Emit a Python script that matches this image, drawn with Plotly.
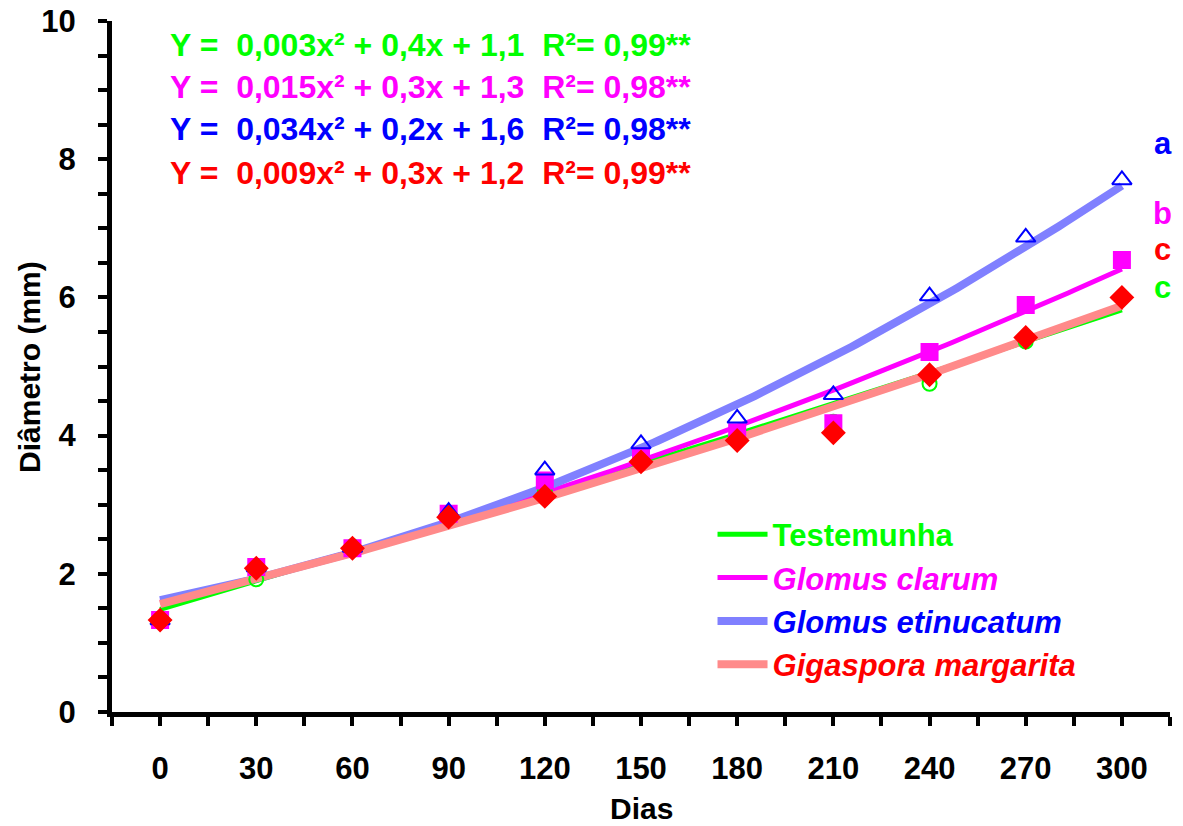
import numpy as np
import plotly.graph_objects as go

dias = [0, 30, 60, 90, 120, 150, 180, 210, 240, 270, 300]
testemunha = [1.33, 1.92, 2.40, 2.85, 3.20, 3.70, 4.00, 4.20, 4.75, 5.36, 6.00]
clarum = [1.33, 2.10, 2.37, 2.87, 3.35, 3.70, 4.05, 4.18, 5.21, 5.89, 6.54]
etunicatum = [1.33, 2.10, 2.38, 2.90, 3.50, 3.88, 4.25, 4.59, 6.02, 6.87, 7.70]
margarita = [1.33, 2.08, 2.37, 2.82, 3.12, 3.62, 3.93, 4.04, 4.88, 5.42, 6.00]

names = ["Testemunha", "<i>Glomus clarum</i>", "<i>Glomus etinucatum</i>", "<i>Gigaspora margarita</i>"]
equations = [
    "Y =  0,003x² + 0,4x + 1,1  R²= 0,99**",
    "Y =  0,015x² + 0,3x + 1,3  R²= 0,98**",
    "Y =  0,034x² + 0,2x + 1,6  R²= 0,98**",
    "Y =  0,009x² + 0,3x + 1,2  R²= 0,99**",
]
letters = ["c", "b", "a", "c"]
letter_y = [6.15, 7.22, 8.23, 6.69]

series = [testemunha, clarum, etunicatum, margarita]
colors = ["#00ff00", "#ff00ff", "#0000ff", "#ff0000"]
line_colors = ["#00ff00", "#ff00ff", "#8080ff", "#ff8a8a"]
line_widths = [5, 5, 8, 8]
symbols = ["circle-open", "square", "triangle-up-open", "diamond"]
msizes = [14, 16, 17, 17]

FONT = "Liberation Sans, Arial, sans-serif"

fig = go.Figure()
xs = np.linspace(0, 300, 200)
for i, ys in enumerate(series):
    c = np.polyfit(dias, ys, 2)
    fig.add_trace(go.Scatter(
        x=xs, y=np.polyval(c, xs), mode="lines",
        name="<span style='color:%s'>%s</span>" % (colors[i], names[i]),
        line=dict(color=line_colors[i], width=line_widths[i]),
        legendgroup=str(i), showlegend=True))

for i, ys in enumerate(series):
    fig.add_trace(go.Scatter(
        x=dias, y=ys, mode="markers", showlegend=False,
        marker=dict(symbol=symbols[i], size=msizes[i], color=colors[i],
                    line=dict(color=colors[i], width=2))))

ann = []
eq_y = [0.965, 0.904, 0.844, 0.780]
for i, eq in enumerate(equations):
    ann.append(dict(text="<b>" + eq + "</b>", xref="paper", yref="paper",
                    x=0.053, y=eq_y[i], xanchor="left", yanchor="middle",
                    showarrow=False, font=dict(family=FONT, size=32, color=colors[i])))
for i, l in enumerate(letters):
    ann.append(dict(text="<b>" + l + "</b>", xref="paper", yref="y",
                    x=0.993, y=letter_y[i], xanchor="center", yanchor="middle",
                    showarrow=False, font=dict(family=FONT, size=31, color=colors[i])))
ann.append(dict(text="<b>Diâmetro (mm)</b>", xref="paper", yref="paper",
                x=-0.078, y=0.5, textangle=-90, xanchor="center", yanchor="middle",
                showarrow=False, font=dict(family=FONT, size=30, color="black")))
ann.append(dict(text="<b>Dias</b>", xref="paper", yref="paper",
                x=0.5, y=-0.139, xanchor="center", yanchor="middle",
                showarrow=False, font=dict(family=FONT, size=30, color="black")))

fig.update_layout(
    width=1183, height=826,
    margin=dict(l=112, r=13, t=21, b=114, autoexpand=False),
    paper_bgcolor="white", plot_bgcolor="white",
    font=dict(family=FONT, size=30, color="black"),
    showlegend=True,
    legend=dict(x=0.5676, y=0.2957, xanchor="left", yanchor="top",
                bgcolor="rgba(0,0,0,0)", tracegroupgap=0,
                font=dict(family=FONT, size=31, weight="bold"),
                itemwidth=50),
    annotations=ann,
    xaxis=dict(range=[-15, 315], tickvals=dias, ticktext=[str(d) for d in dias],
               ticks="outside", ticklen=9, tickwidth=4, tickcolor="black",
               minor=dict(dtick=15, tick0=0, ticks="outside", ticklen=9, tickwidth=4, tickcolor="black"),
               showline=True, linewidth=5, linecolor="black", showgrid=False, zeroline=False,
               ticklabelstandoff=16, automargin=False, ticklabeloverflow="allow",
               tickfont=dict(family=FONT, size=31, weight="bold")),
    yaxis=dict(range=[0, 10], dtick=2, ticks="outside", ticklen=9, tickwidth=4, tickcolor="black",
               minor=dict(dtick=0.5, ticks="outside", ticklen=9, tickwidth=4, tickcolor="black"),
               showline=True, linewidth=5, linecolor="black", showgrid=False, zeroline=False,
               ticklabelstandoff=16, automargin=False, ticklabeloverflow="allow",
               tickfont=dict(family=FONT, size=31, weight="bold")),
)
fig.write_html("out.html", config={"displayModeBar": False},
               post_script="document.body.style.margin='0';document.body.style.overflow='hidden';")
